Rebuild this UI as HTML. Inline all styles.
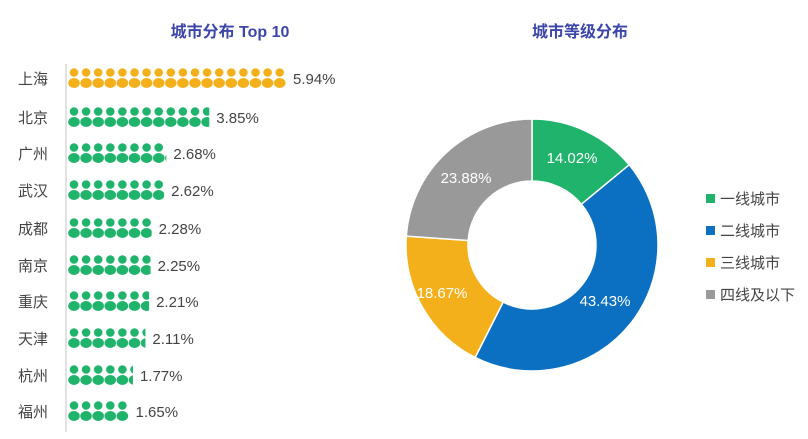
<!DOCTYPE html>
<html><head><meta charset="utf-8"><style>
body{margin:0;width:808px;height:434px;background:#fff;overflow:hidden;font-family:"Liberation Sans","Noto Sans CJK SC",sans-serif}
</style></head><body>
<svg id="s" width="808" height="434" xmlns="http://www.w3.org/2000/svg" font-family="Liberation Sans, Noto Sans CJK SC, sans-serif">
<defs>
<pattern id="pg" width="12.1" height="20" patternUnits="userSpaceOnUse" x="68">
<circle cx="6" cy="4.5" r="4.3" fill="#1fb36b"/><ellipse cx="6" cy="15" rx="5.8" ry="5" fill="#1fb36b"/></pattern>
<pattern id="py" width="12.1" height="20" patternUnits="userSpaceOnUse" x="68">
<circle cx="6" cy="4.5" r="4.3" fill="#f4b01b"/><ellipse cx="6" cy="15" rx="5.8" ry="5" fill="#f4b01b"/></pattern>
</defs>
<text x="230" y="37" text-anchor="middle" font-size="16" font-weight="bold" fill="#3b46a8">城市分布 Top 10</text>
<text x="580" y="37" text-anchor="middle" font-size="16" font-weight="bold" fill="#3b46a8">城市等级分布</text>
<line x1="66" y1="64" x2="66" y2="432" stroke="#d8d8d8" stroke-width="1.5"/>
<g id="bars"></g>
<g id="donut"></g>
<g font-size="15" fill="#444">
<rect x="706" y="194" width="9" height="9" fill="#1fb36b"/><text x="720" y="204">一线城市</text>
<rect x="706" y="226" width="9" height="9" fill="#0b6fc2"/><text x="720" y="236">二线城市</text>
<rect x="706" y="258" width="9" height="9" fill="#f4b01b"/><text x="720" y="268">三线城市</text>
<rect x="706" y="290" width="9" height="9" fill="#999"/><text x="720" y="300">四线及以下</text>
</g>
</svg>
<script>
var NS="http://www.w3.org/2000/svg";
function el(t,a,p,txt){var e=document.createElementNS(NS,t);for(var k in a)e.setAttribute(k,a[k]);if(txt)e.textContent=txt;p.appendChild(e);return e;}
var cities=[["上海",5.94],["北京",3.85],["广州",2.68],["武汉",2.62],["成都",2.28],["南京",2.25],["重庆",2.21],["天津",2.11],["杭州",1.77],["福州",1.65]];
var ys=[78,117,153,190,228,265,301,338,375,411];
var g=document.getElementById("bars");
cities.forEach(function(c,i){
 var y=ys[i],w=c[1]*36.7;
 el("text",{x:18,y:y+6,"font-size":15,fill:"#444"},g,c[0]);
 var gg=el("g",{transform:"translate(0,"+(y-10)+")"},g);
 el("rect",{x:68,y:0,width:w,height:20,fill:i==0?"url(#py)":"url(#pg)"},gg);
 el("text",{x:68+w+7,y:y+6,"font-size":15,fill:"#444"},g,c[1].toFixed(2)+"%");
});
var d=document.getElementById("donut"),cx=532,cy=245,R=126,r=64,a0=-Math.PI/2;
var seg=[[14.02,"#1fb36b"],[43.43,"#0b6fc2"],[18.67,"#f4b01b"],[23.88,"#999"]];
var lp=[[572,163],[605,306],[442,298],[466,183]];
seg.forEach(function(s,i){
 var a1=a0+s[0]/100*2*Math.PI,l=(a1-a0)>Math.PI?1:0;
 function p(rr,a){return (cx+rr*Math.cos(a)).toFixed(2)+" "+(cy+rr*Math.sin(a)).toFixed(2);}
 el("path",{d:"M"+p(R,a0)+"A"+R+" "+R+" 0 "+l+" 1 "+p(R,a1)+"L"+p(r,a1)+"A"+r+" "+r+" 0 "+l+" 0 "+p(r,a0)+"Z",fill:s[1],stroke:"#fff","stroke-width":1.5},d);
 el("text",{x:lp[i][0],y:lp[i][1],"text-anchor":"middle","font-size":15,fill:"#fff"},d,s[0].toFixed(2)+"%");
 a0=a1;
});
</script>
</body></html>
